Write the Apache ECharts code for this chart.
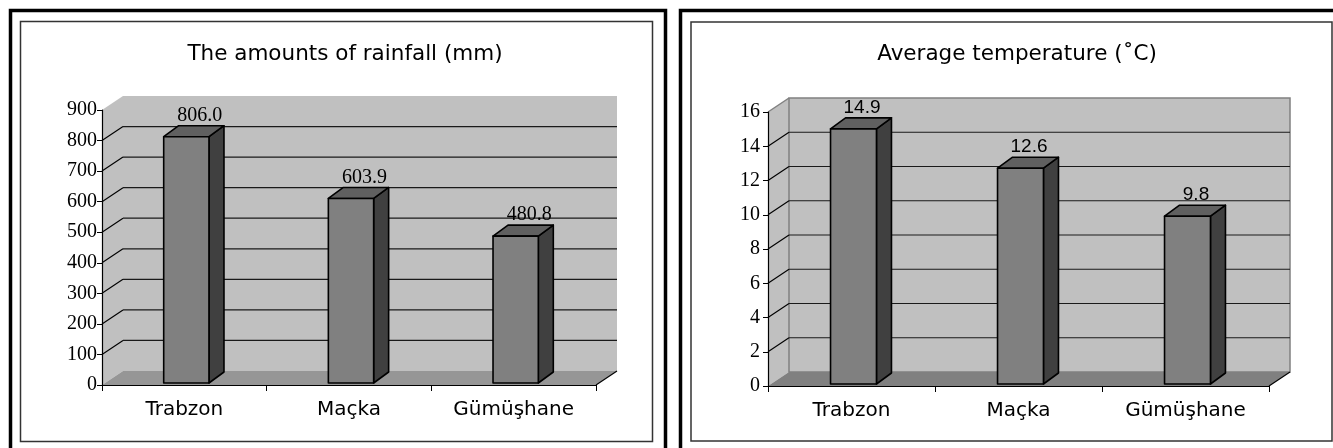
<!DOCTYPE html>
<html>
<head>
<meta charset="utf-8">
<script src="https://cdn.jsdelivr.net/npm/echarts@6/dist/echarts.min.js"></script>
<style>
html,body{margin:0;padding:0;background:#fff;}
#chart{width:1333px;height:448px;}
</style>
</head>
<body>
<div id="chart"></div>
<script>
// ---- data ----
const categories = ['Trabzon', 'Maçka', 'Gümüşhane'];
const rainfall = [806.0, 603.9, 480.8];
const temperature = [14.9, 12.6, 9.8];
const rainTicks = [0, 100, 200, 300, 400, 500, 600, 700, 800, 900];
const tempTicks = [0, 2, 4, 6, 8, 10, 12, 14, 16];
const titles = ['The amounts of rainfall (mm)', 'Average temperature (˚C)'];

// ---- style constants ----
const WALL_D = [21, -14];
const BAR_D = [15, -11];
const BAR_SHIFT = [2, -2];
const BAR_RATIO = 0.275;

function wallRenderer(floorColor, outline) {
  return function (params, api) {
    const cs = params.coordSys;
    const x0 = cs.x, x1 = cs.x + cs.width, yt = cs.y, yb = cs.y + cs.height;
    const dx = WALL_D[0], dy = WALL_D[1];
    const children = [
      { type: 'polygon', shape: { points: [[x0, yt], [x0 + dx, yt + dy], [x0 + dx, yb + dy], [x0, yb]] },
        style: { fill: '#c0c0c0', stroke: null } },
      { type: 'rect', shape: { x: x0 + dx, y: yt + dy, width: x1 - x0, height: yb - yt },
        style: { fill: '#c0c0c0', stroke: outline ? '#808080' : null, lineWidth: 1.5 } },
      { type: 'polygon', shape: { points: [[x0, yb], [x1, yb], [x1 + dx, yb + dy], [x0 + dx, yb + dy]] },
        style: { fill: floorColor } },
      { type: 'line', shape: { x1: x1, y1: yb, x2: x1 + dx, y2: yb + dy },
        style: { stroke: '#000', lineWidth: 1.2 } }
    ];
    if (outline) {
      children.push({ type: 'line', shape: { x1: x0, y1: yt, x2: x0 + dx, y2: yt + dy },
        style: { stroke: '#808080', lineWidth: 1.5 } });
    }
    return { type: 'group', children: children };
  };
}

function gridRenderer(params, api) {
  const cs = params.coordSys;
  const x0 = cs.x, x1 = cs.x + cs.width;
  const y = api.coord([0, api.value(0)])[1];
  const dx = WALL_D[0], dy = WALL_D[1];
  return {
    type: 'group',
    children: [
      { type: 'line', shape: { x1: x0, y1: y, x2: x0 + dx, y2: y + dy }, style: { stroke: '#000', lineWidth: 1.2 } },
      { type: 'line', shape: { x1: x0 + dx, y1: y + dy, x2: x1 + dx, y2: y + dy }, style: { stroke: '#1a1a1a', lineWidth: 1.2 } }
    ]
  };
}

function barRenderer(labelFont, labelDx) {
  return function (params, api) {
    const idx = api.value(0), v = api.value(1);
    const top = api.coord([idx, v]);
    const base = api.coord([idx, 0]);
    const w = api.size([1, 0])[0] * BAR_RATIO;
    const xl = top[0] - w / 2 + BAR_SHIFT[0], xr = xl + w;
    const yt = top[1] + BAR_SHIFT[1], yb = base[1] + BAR_SHIFT[1];
    const dx = BAR_D[0], dy = BAR_D[1];
    const st = { stroke: '#000', lineWidth: 1.6, lineJoin: 'round' };
    return {
      type: 'group',
      children: [
        { type: 'polygon', shape: { points: [[xr, yt], [xr + dx, yt + dy], [xr + dx, yb + dy], [xr, yb]] },
          style: Object.assign({ fill: '#404040' }, st) },
        { type: 'polygon', shape: { points: [[xl, yt], [xl + dx, yt + dy], [xr + dx, yt + dy], [xr, yt]] },
          style: Object.assign({ fill: '#606060' }, st) },
        { type: 'rect', shape: { x: xl, y: yt, width: w, height: yb - yt },
          style: Object.assign({ fill: '#808080' }, st) },
        { type: 'text', x: xl + w / 2 + dx / 2 + labelDx, y: yt + dy - 10,
          style: { text: v.toFixed(1), fill: '#000', font: labelFont, align: 'center', verticalAlign: 'middle' } }
      ]
    };
  };
}

const gridDefs = [
  { left: 102, top: 110, width: 494, height: 275 },
  { left: 768, top: 112, width: 501, height: 274 }
];

function xAxisDef(i) {
  return {
    type: 'category', gridIndex: i, data: categories,
    axisLine: { lineStyle: { color: '#000', width: 1.2 } },
    axisTick: { show: true, length: 6, lineStyle: { color: '#000' } },
    axisLabel: { color: '#000', fontFamily: 'DejaVu Sans', fontSize: 20, margin: 15 },
    splitLine: { show: false }
  };
}
function yAxisDef(i, max, interval, margin) {
  return {
    type: 'value', gridIndex: i, min: 0, max: max, interval: interval,
    axisLine: { show: true, lineStyle: { color: '#000', width: 1.2 } },
    axisTick: { show: true, length: 5, lineStyle: { color: '#000' } },
    axisLabel: { color: '#000', fontFamily: 'Liberation Serif', fontSize: 20, margin: margin },
    splitLine: { show: false }
  };
}

const inner = (arr) => arr.slice(1, arr.length - 1).map(v => [v]);

const option = {
  animation: false,
  backgroundColor: '#fff',
  title: [
    { text: titles[0], left: 340, top: 38, textAlign: 'center',
      textStyle: { fontFamily: 'DejaVu Sans', fontSize: 21.5, fontWeight: 'normal', color: '#000' } },
    { text: titles[1], left: 1012, top: 38, textAlign: 'center',
      textStyle: { fontFamily: 'DejaVu Sans', fontSize: 21.5, fontWeight: 'normal', color: '#000' } }
  ],
  grid: gridDefs,
  xAxis: [xAxisDef(0), xAxisDef(1)],
  yAxis: [yAxisDef(0, 900, 100, 5), yAxisDef(1, 16, 2, 8)],
  graphic: [
    { type: 'rect', shape: { x: 10.5, y: 10.5, width: 655, height: 470 }, style: { fill: null, stroke: '#000', lineWidth: 3.5 } },
    { type: 'rect', shape: { x: 20.5, y: 21.5, width: 632, height: 420 }, style: { fill: null, stroke: '#333', lineWidth: 1.5 } },
    { type: 'rect', shape: { x: 680.5, y: 10.5, width: 700, height: 470 }, style: { fill: null, stroke: '#000', lineWidth: 3.5 } },
    { type: 'rect', shape: { x: 691, y: 22, width: 641, height: 419 }, style: { fill: null, stroke: '#333', lineWidth: 1.5 } }
  ],
  series: [
    { type: 'custom', xAxisIndex: 0, yAxisIndex: 0, z: -2, silent: true, data: [[0]], renderItem: wallRenderer('#969696', false) },
    { type: 'custom', xAxisIndex: 0, yAxisIndex: 0, z: -1, silent: true, data: inner(rainTicks), renderItem: gridRenderer },
    { type: 'custom', xAxisIndex: 0, yAxisIndex: 0, z: 3, data: rainfall.map((v, i) => [i, v]),
      renderItem: barRenderer('20px "Liberation Serif"', 6) },
    { type: 'custom', xAxisIndex: 1, yAxisIndex: 1, z: -2, silent: true, data: [[0]], renderItem: wallRenderer('#808080', true) },
    { type: 'custom', xAxisIndex: 1, yAxisIndex: 1, z: -1, silent: true, data: inner(tempTicks), renderItem: gridRenderer },
    { type: 'custom', xAxisIndex: 1, yAxisIndex: 1, z: 3, data: temperature.map((v, i) => [i, v]),
      renderItem: barRenderer('19px "Liberation Sans"', 1) }
  ]
};

const chart = echarts.init(document.getElementById('chart'), null, { renderer: 'canvas' });
chart.setOption(option);
</script>
</body>
</html>
